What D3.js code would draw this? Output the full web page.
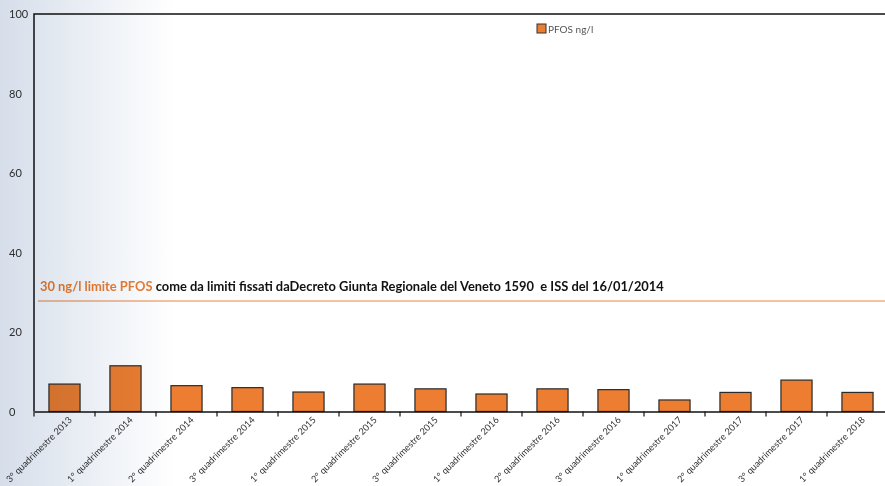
<!DOCTYPE html>
<html>
<head>
<meta charset="utf-8">
<script src="https://cdn.jsdelivr.net/npm/d3@7"></script>
<style>
  html, body { margin: 0; padding: 0; background: #fff; }
  svg { display: block; font-family: Lato, 'Open Sans', sans-serif; }
</style>
</head>
<body>
<svg id="chart" width="885" height="486"></svg>
<script>
// dati
let categories = [
	'3° quadrimestre 2013', '1° quadrimestre 2014', '2° quadrimestre 2014', '3° quadrimestre 2014',
	'1° quadrimestre 2015', '2° quadrimestre 2015', '3° quadrimestre 2015', '1° quadrimestre 2016',
	'2° quadrimestre 2016', '3° quadrimestre 2016', '1° quadrimestre 2017', '2° quadrimestre 2017',
	'3° quadrimestre 2017', '1° quadrimestre 2018'
];
let pfos = [6.9, 11.5, 6.5, 6.0, 4.9, 6.9, 5.7, 4.4, 5.7, 5.5, 2.9, 4.8, 7.9, 4.8];
let yTicks = [0, 20, 40, 60, 80, 100];
let limitLine = 27.8;
let seriesName = 'PFOS ng/l';
let notePart1 = '30 ng/l limite PFOS';
let notePart2 = ' come da limiti fissati daDecreto Giunta Regionale del Veneto 1590\u00a0 e ISS del 16/01/2014';

let svg = d3.select('#chart');

let margin = { top: 14, right: -3, bottom: 74.5, left: 34 };
let width = +svg.attr('width') - margin.left - margin.right;
let height = +svg.attr('height') - margin.top - margin.bottom;

// sfondo sfumato
let defs = svg.append('defs');
let grad = defs.append('linearGradient')
	.attr('id', 'bg')
	.attr('x1', 0).attr('x2', 1).attr('y1', 0).attr('y2', 0);
grad.append('stop').attr('offset', '0%').attr('stop-color', '#d6deea');
grad.append('stop').attr('offset', '100%').attr('stop-color', '#ffffff');

let chart = svg.append('g')
	.attr('transform', 'translate(' + margin.left + ', ' + margin.top + ')');

let x = d3.scaleBand()
	.domain(categories)
	.range([0, width])
	.paddingInner(0.49)
	.paddingOuter(0.245);

let xTicks = d3.scaleBand()
	.domain(categories)
	.range([0, width]);

let y = d3.scaleLinear()
	.domain([0, 100])
	.range([height, 0]);

// linea limite
chart.append('line')
	.attr('x1', 4)
	.attr('x2', width)
	.attr('y1', y(limitLine))
	.attr('y2', y(limitLine))
	.attr('stroke', '#ee8440')
	.attr('stroke-width', 1.2);

chart.append('text')
	.attr('x', 6)
	.attr('y', y(limitLine) - 10)
	.attr('font-size', '12.9px')
	.attr('font-weight', 'bold')
	.call(t => {
		t.append('tspan').attr('fill', '#ed7d31').text(notePart1);
		t.append('tspan').attr('fill', '#111').text(notePart2);
	});

// barre
chart.selectAll('.bar')
	.data(pfos)
	.enter()
	.append('rect')
	.attr('class', 'bar')
	.attr('x', (d, i) => x(categories[i]))
	.attr('width', x.bandwidth())
	.attr('y', d => y(d))
	.attr('height', d => height - y(d))
	.attr('fill', '#ed7d31')
	.attr('stroke', '#2a2a2a')
	.attr('stroke-width', 1.2);

// asse y (solo etichette)
chart.selectAll('.ylab')
	.data(yTicks)
	.enter()
	.append('text')
	.attr('class', 'ylab')
	.attr('x', -25)
	.attr('y', d => y(d) + 4)
	.attr('font-size', '11px')
	.attr('fill', '#333')
	.text(d => d);

// asse x
let xAxis = d3.axisBottom(xTicks).tickSize(0).tickFormat('');
let gx = chart.append('g')
	.attr('transform', 'translate(0, ' + height + ')')
	.call(xAxis);
gx.select('.domain').attr('stroke', '#111').attr('stroke-width', 1.5);

chart.selectAll('.xtick')
	.data(categories)
	.enter()
	.append('line')
	.attr('class', 'xtick')
	.attr('x1', d => xTicks(d))
	.attr('x2', d => xTicks(d))
	.attr('y1', height)
	.attr('y2', height + 5)
	.attr('stroke', '#111')
	.attr('stroke-width', 1.2);

chart.selectAll('.xlab')
	.data(categories)
	.enter()
	.append('text')
	.attr('class', 'xlab')
	.attr('text-anchor', 'end')
	.attr('font-size', '9.2px')
	.attr('fill', '#333')
	.attr('transform', d => 'translate(' + (xTicks(d) + xTicks.bandwidth() / 2 + 8) + ', ' + (height + 9) + ') rotate(-45)')
	.text(d => d);

// bordo sinistro e superiore
chart.append('path')
	.attr('d', 'M0,' + height + 'V0H' + width)
	.attr('fill', 'none')
	.attr('stroke', '#111')
	.attr('stroke-width', 1.5);

// legenda
let legend = chart.append('g')
	.attr('transform', 'translate(503, 10)');
legend.append('rect')
	.attr('width', 9)
	.attr('height', 9)
	.attr('fill', '#ed7d31')
	.attr('stroke', '#333')
	.attr('stroke-width', 1);
legend.append('text')
	.attr('x', 11)
	.attr('y', 8.5)
	.attr('font-size', '10px')
	.attr('fill', '#555')
	.text(seriesName);

// sfumatura sopra tutto (moltiplica)
svg.append('rect')
	.attr('width', 175)
	.attr('height', 486)
	.attr('fill', 'url(#bg)')
	.style('mix-blend-mode', 'multiply')
	.style('pointer-events', 'none');
</script>
</body>
</html>
